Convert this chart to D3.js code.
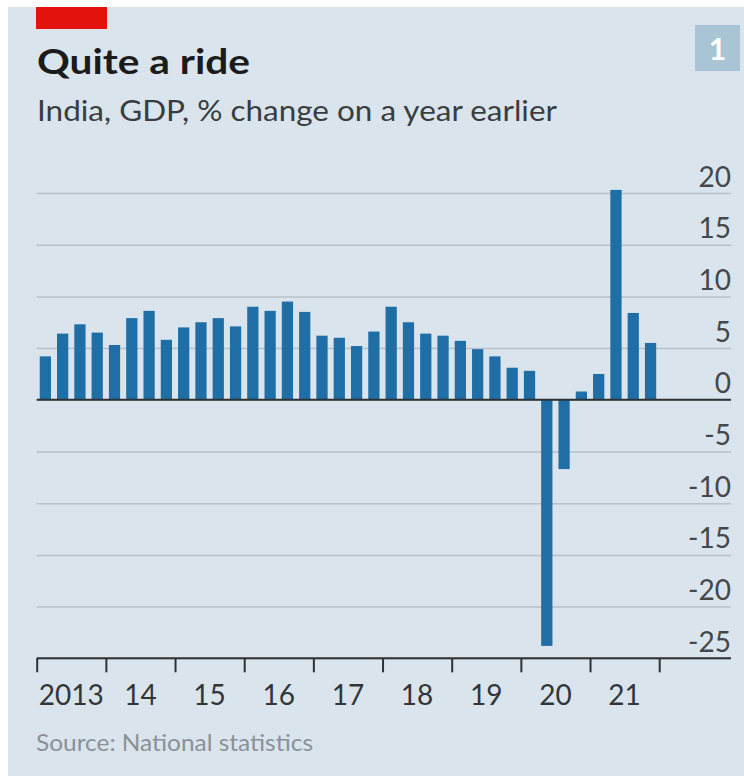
<!DOCTYPE html>
<html>
<head>
<meta charset="utf-8">
<script src="https://cdn.jsdelivr.net/npm/d3@7"></script>
<style>
  body { margin: 0; background: #ffffff; }
  svg { display: block; }
  text { font-family: Lato, "Noto Sans", sans-serif; }
</style>
</head>
<body>
<svg id="chart" width="744" height="776"></svg>
<script>
// India, real GDP, % change on a year earlier, quarterly
const quarters = [
  "2013Q1","2013Q2","2013Q3","2013Q4",
  "2014Q1","2014Q2","2014Q3","2014Q4",
  "2015Q1","2015Q2","2015Q3","2015Q4",
  "2016Q1","2016Q2","2016Q3","2016Q4",
  "2017Q1","2017Q2","2017Q3","2017Q4",
  "2018Q1","2018Q2","2018Q3","2018Q4",
  "2019Q1","2019Q2","2019Q3","2019Q4",
  "2020Q1","2020Q2","2020Q3","2020Q4",
  "2021Q1","2021Q2","2021Q3","2021Q4"
];
const growth = [
  4.2, 6.4, 7.3, 6.5,
  5.3, 7.9, 8.6, 5.8,
  7.0, 7.5, 7.9, 7.1,
  9.0, 8.6, 9.5, 8.5,
  6.2, 6.0, 5.2, 6.6,
  9.0, 7.5, 6.4, 6.2,
  5.7, 4.9, 4.2, 3.1,
  2.8, -23.8, -6.7, 0.8,
  2.5, 20.3, 8.4, 5.5
];
const yearTicks = [2013, 2014, 2015, 2016, 2017, 2018, 2019, 2020, 2021, 2022];
const yearLabels = ["2013", "14", "15", "16", "17", "18", "19", "20", "21"];
const valueTicks = [-25, -20, -15, -10, -5, 0, 5, 10, 15, 20];

const svg = d3.select("#chart");

// panel
svg.append("rect")
  .attr("x", 8).attr("y", 7).attr("width", 736).attr("height", 769)
  .attr("fill", "#d9e4ec");

// red tag
svg.append("rect")
  .attr("x", 36).attr("y", 7).attr("width", 71).attr("height", 22)
  .attr("fill", "#e3120b");

// chart number box
svg.append("rect")
  .attr("x", 695).attr("y", 25).attr("width", 45).attr("height", 46)
  .attr("fill", "#a9c4d5");
svg.append("text")
  .attr("x", 717.5).attr("y", 60)
  .attr("text-anchor", "middle")
  .attr("font-size", 30).attr("font-weight", 700)
  .attr("fill", "#ffffff")
  .text("1");

function fitWidth(sel, w) {
  sel.attr("textLength", w).attr("lengthAdjust", "spacingAndGlyphs");
  return sel;
}

// headings
fitWidth(svg.append("text")
  .attr("x", 37).attr("y", 74)
  .attr("font-size", 34).attr("font-weight", 700)
  .attr("fill", "#1b1b1b")
  .text("Quite a ride"), 213);

fitWidth(svg.append("text")
  .attr("x", 37).attr("y", 121)
  .attr("font-size", 28)
  .attr("fill", "#3a3d40")
  .text("India, GDP, % change on a year earlier"), 520);

// scales
const plotLeft = 36.7, plotRight = 731, lastTick = 659.2;
const y = d3.scaleLinear().domain([-25, 20]).range([658.3, 193]);
const x = d3.scaleBand().domain(quarters)
  .range([plotLeft, lastTick])
  .paddingInner(0.35).paddingOuter(0.175);
const t = d3.scaleLinear().domain([2013, 2022]).range([plotLeft, lastTick]);

// gridlines and value labels
const gy = svg.append("g")
  .attr("transform", `translate(${plotRight},0)`)
  .call(d3.axisLeft(y).tickValues(valueTicks)
    .tickSize(plotRight - plotLeft)
    .tickFormat(d => String(d)));
gy.select(".domain").remove();
gy.selectAll(".tick line")
  .attr("stroke", "#b5c1cb")
  .attr("stroke-width", 1.5);
gy.selectAll(".tick text")
  .attr("x", 0).attr("dy", "0").attr("y", -7)
  .attr("text-anchor", "end")
  .attr("font-size", 28)
  .attr("fill", "#45484b");

// bars
svg.append("g")
  .selectAll("rect")
  .data(growth)
  .join("rect")
  .attr("x", (d, i) => x(quarters[i]))
  .attr("width", x.bandwidth())
  .attr("y", d => y(Math.max(0, d)))
  .attr("height", d => Math.abs(y(d) - y(0)))
  .attr("fill", "#1f6ea6");

// zero line
svg.append("line")
  .attr("x1", plotLeft).attr("x2", plotRight)
  .attr("y1", y(0)).attr("y2", y(0))
  .attr("stroke", "#2f3235").attr("stroke-width", 2);

// time axis
svg.append("line")
  .attr("x1", plotLeft).attr("x2", plotRight)
  .attr("y1", y(-25)).attr("y2", y(-25))
  .attr("stroke", "#2f3235").attr("stroke-width", 2);
const gx = svg.append("g")
  .attr("transform", `translate(0,${y(-25)})`)
  .call(d3.axisBottom(t).tickValues(yearTicks).tickSize(14).tickFormat(""));
gx.select(".domain").remove();
gx.selectAll(".tick line").attr("stroke", "#2f3235").attr("stroke-width", 2);

svg.append("g")
  .selectAll("text")
  .data(yearLabels)
  .join("text")
  .attr("x", (d, i) => (t(yearTicks[i]) + t(yearTicks[i + 1])) / 2)
  .attr("y", 705)
  .attr("text-anchor", "middle")
  .attr("font-size", 28)
  .attr("fill", "#333639")
  .text(d => d);

// source
fitWidth(svg.append("text")
  .attr("x", 36).attr("y", 751)
  .attr("font-size", 24)
  .attr("fill", "#8b9197")
  .text("Source: National statistics"), 277);
</script>
</body>
</html>
